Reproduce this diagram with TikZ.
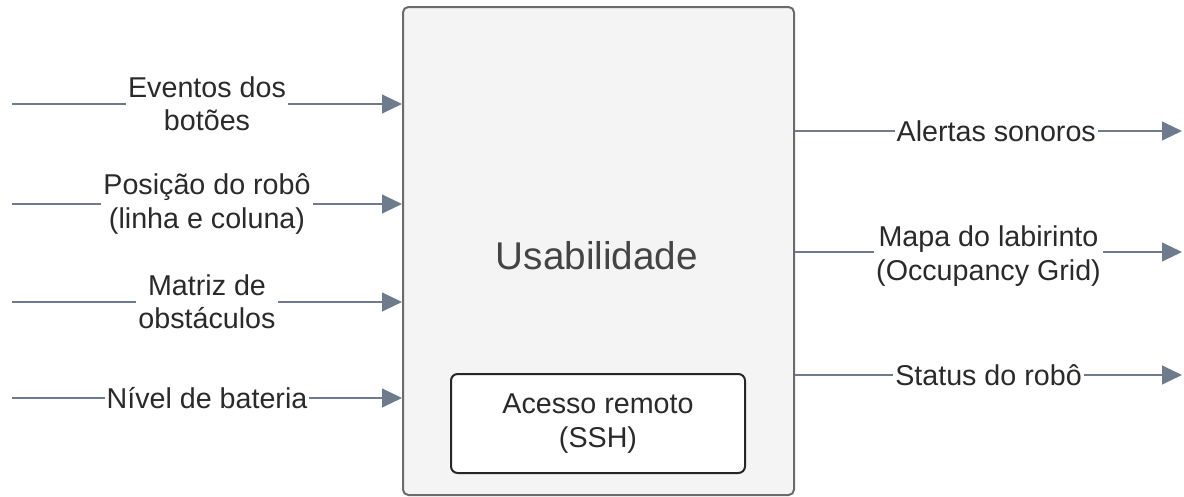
\documentclass[tikz,border=0pt]{standalone}
\usepackage{fontspec}
\setmainfont{Liberation Sans}
\usetikzlibrary{arrows.meta}
\definecolor{flow}{HTML}{6E7B8D}
\definecolor{boxfill}{HTML}{F4F4F4}
\definecolor{boxline}{HTML}{6B6B6B}
\definecolor{ink}{HTML}{2A2A2A}
\definecolor{titleink}{HTML}{444444}
\tikzset{
  block/.style={draw=boxline, fill=boxfill, line width=1.5pt, rounded corners=4pt,
    minimum width=391*0.75pt, minimum height=488*0.75pt, inner sep=0pt},
  subblock/.style={draw=black!85, fill=white, line width=1.5pt, rounded corners=5pt,
    minimum width=294*0.75pt, minimum height=99*0.75pt, align=center,
    font=\fontsize{21.5}{25}\selectfont, text=ink},
  flowarrow/.style={draw=flow, line width=1.6pt, -{Triangle[length=15pt,width=14pt]}},
  lbl/.style={fill=white, inner sep=1.5pt, align=center, text=ink,
    font=\fontsize{21.5}{25}\selectfont},
}
\begin{document}
\begin{tikzpicture}[x=0.75pt,y=-0.75pt]
\useasboundingbox (0,0) rectangle (1184,496);

% central block and its inner box
\node[block] (main) at (598.5,251) {};
\node[text=titleink, font=\fontsize{29}{34}\selectfont] (title) at (597,256) {Usabilidade};
\node[subblock] (ssh) at (598,423.5) {Acesso remoto\\(SSH)};

% free ends of the inputs
\coordinate (in1) at (12,104);
\coordinate (in2) at (12,204);
\coordinate (in3) at (12,302);
\coordinate (in4) at (12,398);

\draw[flowarrow] (in1) -- (in1 -| main.west) node[midway, lbl] {Eventos dos\\botões};
\draw[flowarrow] (in2) -- (in2 -| main.west) node[midway, lbl] {Posição do robô\\(linha e coluna)};
\draw[flowarrow] (in3) -- (in3 -| main.west) node[midway, lbl] {Matriz de\\obstáculos};
\draw[flowarrow] (in4) -- (in4 -| main.west) node[midway, lbl] {Nível de bateria};

% free ends of the outputs
\coordinate (out1) at (1182,131);
\coordinate (out2) at (1182,252);
\coordinate (out3) at (1182,375);

\draw[flowarrow] (out1 -| main.east) -- (out1) node[pos=0.52, lbl] {Alertas sonoros};
\draw[flowarrow] (out2 -| main.east) -- (out2) node[midway, lbl, yshift=-3pt] {Mapa do labirinto\\(Occupancy Grid)};
\draw[flowarrow] (out3 -| main.east) -- (out3) node[midway, lbl] {Status do robô};
\end{tikzpicture}
\end{document}
